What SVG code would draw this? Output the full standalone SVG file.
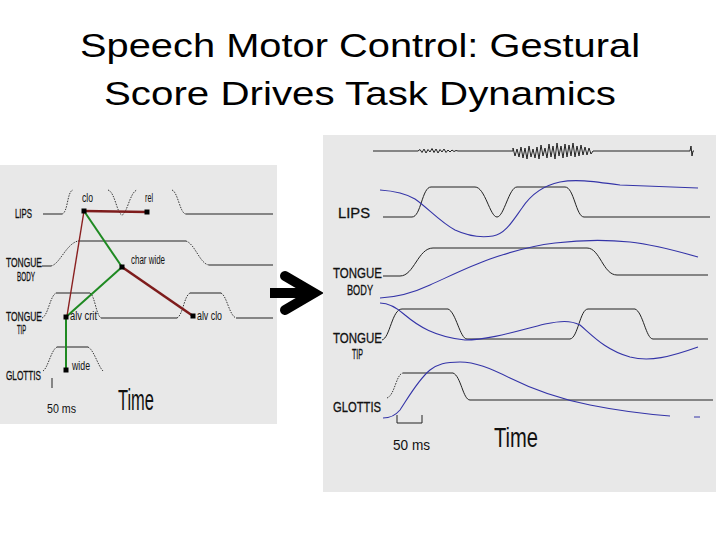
<svg xmlns="http://www.w3.org/2000/svg" width="720" height="540" viewBox="0 0 720 540">
<style>
.title{font-family:"Liberation Sans",Arial,sans-serif;font-size:34px;fill:#000}
.lbl{font-family:"Liberation Sans",Arial,sans-serif;fill:#111}
.bw{stroke:#111;stroke-width:0.3}
.panel{fill:#e8e8e8}
.ln{fill:none;stroke:#222;stroke-width:1}
.dot{fill:none;stroke:#222;stroke-width:0.9;stroke-dasharray:1.5 1.2}
.blue{fill:none;stroke:#3434a8;stroke-width:1.1}
.red{fill:none;stroke:#7e1c1c;stroke-width:2.6}
.redthin{fill:none;stroke:#8a2020;stroke-width:1.4}
.green{fill:none;stroke:#1f8a22;stroke-width:2}
.sq{fill:#000}
</style>
<rect width="720" height="540" fill="#fff"/>
<g id="title">
<text class="title" x="360" y="57" text-anchor="middle" textLength="560" lengthAdjust="spacingAndGlyphs">Speech Motor Control: Gestural</text>
<text class="title" x="360" y="105" text-anchor="middle" textLength="512" lengthAdjust="spacingAndGlyphs">Score Drives Task Dynamics</text>
</g>

<g id="left-panel">
<rect class="panel" x="0" y="165" width="277" height="259"/>
<g id="left-lips">
<text class="lbl bw" x="15" y="218" font-size="12" textLength="17" lengthAdjust="spacingAndGlyphs">LIPS</text>
<path class="ln" d="M43,214 H62"/>
<path class="dot" d="M62,214 C68,213 67,191 73,190"/>
<path class="dot" d="M108,190 C115,192 117,214 122,215 C127,214 130,192 137,190"/>
<path class="dot" d="M172,190 C178,192 180,214 186,214"/>
<path class="ln" d="M186,214 H273"/>
</g>
<g id="left-tb">
<text class="lbl bw" x="6" y="267" font-size="12.5" textLength="36" lengthAdjust="spacingAndGlyphs">TONGUE</text>
<text class="lbl bw" x="17" y="281" font-size="12.5" textLength="18" lengthAdjust="spacingAndGlyphs">BODY</text>
<path class="ln" d="M42,266 H51"/>
<path class="dot" d="M51,266 C60,264 66,244 78,241"/>
<path class="ln" d="M78,241 H186"/>
<path class="dot" d="M186,241 C195,244 200,264 209,265"/>
<path class="ln" d="M209,265 H273"/>
</g>
<g id="left-tt">
<text class="lbl bw" x="6" y="321" font-size="12.5" textLength="36" lengthAdjust="spacingAndGlyphs">TONGUE</text>
<text class="lbl bw" x="17" y="334" font-size="12.5" textLength="9" lengthAdjust="spacingAndGlyphs">TIP</text>
<path class="dot" d="M42,318 C48,316 50,296 56,293"/>
<path class="ln" d="M56,293 H90"/>
<path class="dot" d="M90,293 C95,296 96,315 101,318"/>
<path class="ln" d="M101,318 H177"/>
<path class="dot" d="M177,318 C183,315 184,296 190,293"/>
<path class="ln" d="M190,293 H221"/>
<path class="dot" d="M221,293 C227,296 229,315 236,318"/>
<path class="ln" d="M236,318 H273"/>
</g>
<g id="left-glottis">
<text class="lbl bw" x="6" y="380" font-size="12.5" textLength="35" lengthAdjust="spacingAndGlyphs">GLOTTIS</text>
<path class="dot" d="M43,371 C48,368 51,350 57,347"/>
<path class="ln" d="M57,347 H88"/>
<path class="dot" d="M88,347 C94,350 98,366 103,371"/>
</g>
<g id="left-connectors">
<path class="red" d="M84,211 L147,212"/>
<path class="redthin" d="M84,211 L67,316"/>
<path class="green" d="M84,211 L122,267"/>
<path class="red" d="M122,267 L193,316"/>
<path class="green" d="M122,267 L66,317"/>
<path class="green" d="M66,317 L66,370" stroke-width="1.6"/>
</g>
<g id="left-nodes">
<g id="n-clo"><rect class="sq" x="81.5" y="208.5" width="5" height="5"/><text class="lbl" x="82" y="202" font-size="12" textLength="11" lengthAdjust="spacingAndGlyphs">clo</text></g>
<g id="n-rel"><rect class="sq" x="144.5" y="209.5" width="5" height="5"/><text class="lbl" x="145" y="202" font-size="12" textLength="8" lengthAdjust="spacingAndGlyphs">rel</text></g>
<g id="n-charwide"><rect class="sq" x="119.5" y="264.5" width="5" height="5"/><text class="lbl" x="131" y="264" font-size="12" textLength="34" lengthAdjust="spacingAndGlyphs">char wide</text></g>
<g id="n-alvcrit"><rect class="sq" x="63.5" y="314.5" width="5" height="5"/><text class="lbl" x="70" y="320" font-size="12" textLength="27" lengthAdjust="spacingAndGlyphs">alv crit</text></g>
<g id="n-alvclo"><rect class="sq" x="190.5" y="313.5" width="5" height="5"/><text class="lbl" x="197" y="320" font-size="12" textLength="25" lengthAdjust="spacingAndGlyphs">alv clo</text></g>
<g id="n-wide"><rect class="sq" x="63.5" y="367.5" width="5" height="5"/><text class="lbl" x="72" y="370" font-size="12" textLength="18" lengthAdjust="spacingAndGlyphs">wide</text></g>
</g>
<g id="left-scale">
<path class="ln" d="M52,378 V388"/>
<text class="lbl" x="47" y="413" font-size="13" textLength="29" lengthAdjust="spacingAndGlyphs">50 ms</text>
<text class="lbl" x="118" y="410" font-size="30" textLength="36" lengthAdjust="spacingAndGlyphs">Time</text>
</g>
</g>

<g id="arrow">
<path d="M270,293 H315" stroke="#000" stroke-width="10" fill="none"/>
<path d="M285,276 L314,293 L285,310" stroke="#000" stroke-width="10" fill="none" stroke-linecap="round" stroke-linejoin="miter"/>
</g>

<g id="right-panel">
<rect class="panel" x="323" y="135" width="393" height="357"/>
<g id="waveform">
<path class="ln" d="M373,151 H418 L420,149.5 L422,152.5 L424,149 L426,153 L428,149.5 L430,152 L432,148.5 L434,152.5 L436,149 L438,153 L440,149.5 L442,152 L444,149 L446,152.5 L448,150 L450,152 L452,150 L454,151.5 L456,150.5 L458,151 H513 L513,148 L515,156 L517,149 L519,157 L521,147 L523,158 L525,148 L527,159 L529,146 L531,157 L533,149 L535,158 L537,147 L539,159 L541,145 L543,156 L545,148 L547,158 L549,144 L551,157 L553,146 L555,159 L557,143 L559,156 L561,146 L563,158 L565,144 L567,157 L569,145 L571,156 L573,143 L575,157 L577,146 L579,156 L581,145 L583,155 L585,147 L587,155 L589,148 L591,154 L593,151 H690 L691,146 L692,156 L693,151 H694"/>
</g>
<g id="right-lips">
<text class="lbl bw" x="338" y="218" font-size="15" textLength="32" lengthAdjust="spacingAndGlyphs">LIPS</text>
<path class="ln" d="M383,217 H412 C421,217 422,187 431,187 H475 C485,187 490,217 497,217 C504,217 509,187 517,187 H565 C574,187 576,217 584,217 H710"/>
<path class="blue" d="M380,190 C395,191 405,193 415,199 C428,208 440,222 455,230 C468,236 480,238 493,236 C505,234 512,222 522,208 C532,193 545,185 560,182 C575,179 590,181 620,185 L698,188"/>
</g>
<g id="right-tb">
<text class="lbl bw" x="333" y="278" font-size="15" textLength="49" lengthAdjust="spacingAndGlyphs">TONGUE</text>
<text class="lbl bw" x="347" y="295" font-size="14.5" textLength="26" lengthAdjust="spacingAndGlyphs">BODY</text>
<path class="ln" d="M383,276 H400 C414,276 418,248 433,248 H587 C600,248 603,275 617,275 H708"/>
<path class="blue" d="M380,298 C400,297 415,292 430,285 C450,276 470,266 490,259 C510,252 530,246 555,243 C580,240 610,240 630,242 C650,244 670,249 698,257"/>
</g>
<g id="right-tt">
<text class="lbl bw" x="333" y="343" font-size="14.5" textLength="49" lengthAdjust="spacingAndGlyphs">TONGUE</text>
<text class="lbl bw" x="352" y="359" font-size="14" textLength="11" lengthAdjust="spacingAndGlyphs">TIP</text>
<path class="ln" d="M382,340 C390,338 392,309 402,309 H448 C456,312 460,339 467,339 H570 C578,338 580,309 588,309 H635 C643,312 646,339 653,339 H708"/>
<path class="blue" d="M380,303 C388,303 395,306 405,315 C418,326 435,337 465,340 C490,340 520,330 545,324 C560,321 570,320 580,325 C592,335 605,350 630,357 C650,362 670,357 698,347"/>
</g>
<g id="right-glottis">
<text class="lbl bw" x="333" y="412" font-size="14.5" textLength="48" lengthAdjust="spacingAndGlyphs">GLOTTIS</text>
<path class="dot" d="M387,398 C395,395 396,374 403,373"/>
<path class="ln" d="M403,373 H453 C461,376 463,400 470,400 H713"/>
<path class="blue" d="M383,418 C390,418 395,416 400,410 C408,398 418,380 430,370 C438,364 445,362 460,362 C475,362 490,368 510,378 C530,388 555,398 590,405 C615,410 645,414 670,416 M694,417 H700"/>
</g>
<g id="right-scale">
<path class="ln" d="M397,415 V423 H422 V415" stroke-width="1.4"/>
<text class="lbl" x="393" y="450" font-size="14.5" textLength="37" lengthAdjust="spacingAndGlyphs">50 ms</text>
<text class="lbl" x="494" y="447" font-size="27" textLength="44" lengthAdjust="spacingAndGlyphs">Time</text>
</g>
</g>
</svg>
